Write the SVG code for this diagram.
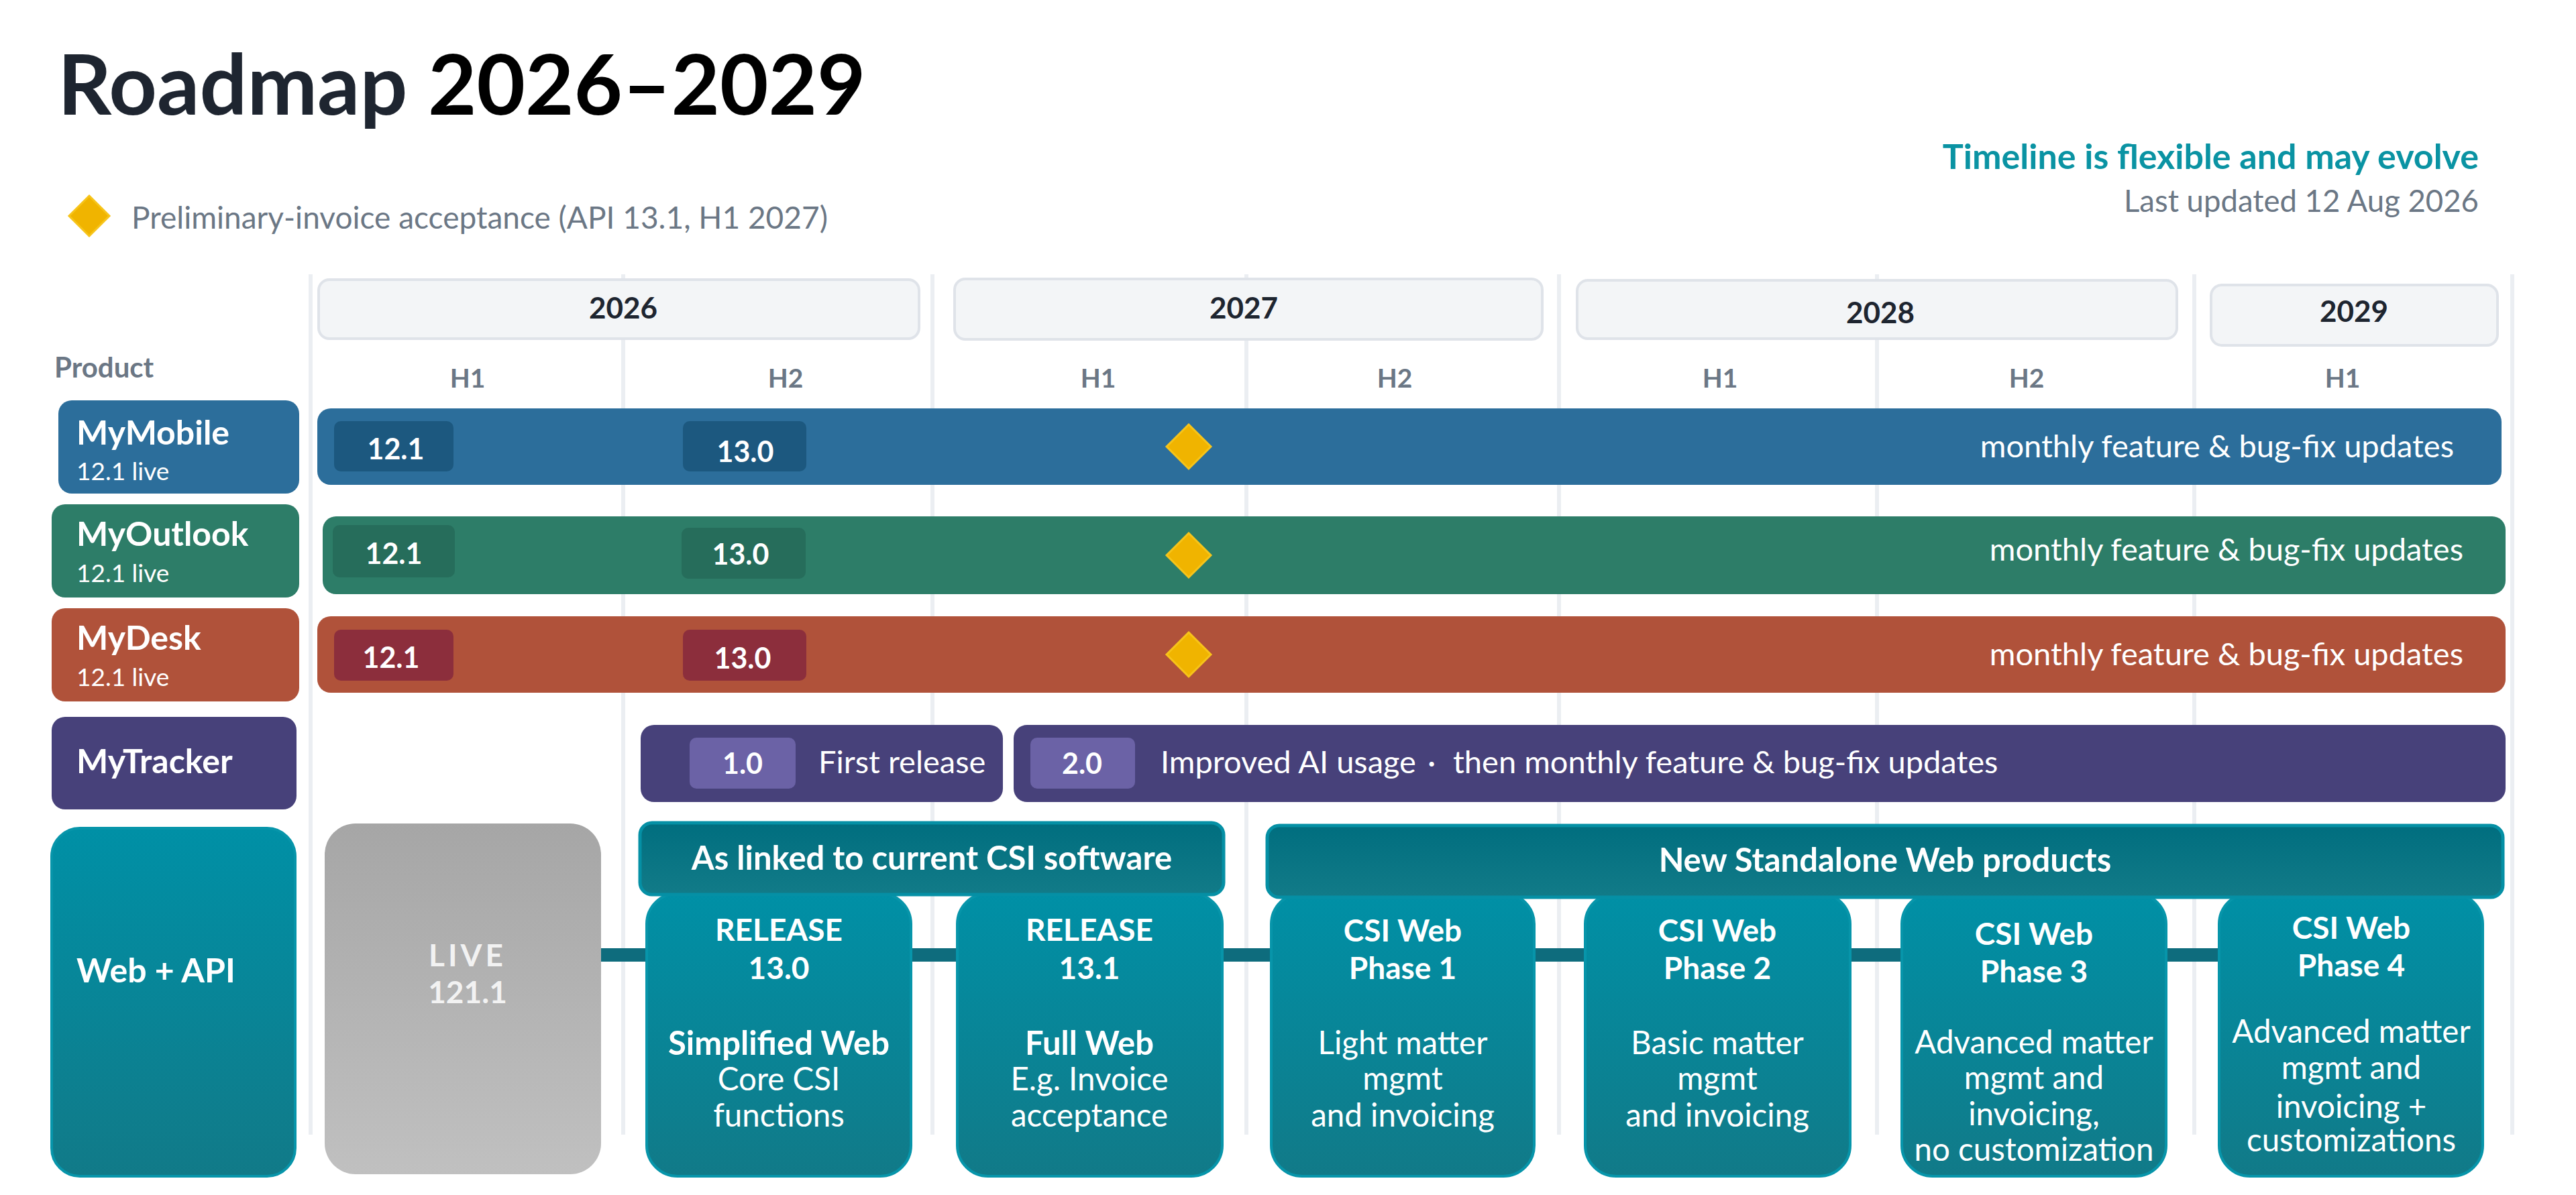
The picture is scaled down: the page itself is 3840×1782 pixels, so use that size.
<svg xmlns="http://www.w3.org/2000/svg" width="3840" height="1782" viewBox="0 0 3840 1782">
<defs>
<style>
text{font-family:Lato,"Open Sans","Liberation Sans",sans-serif}
.b{font-weight:700}
.w{fill:#ffffff}
.g{fill:#6b7785}
.yr{fill:#f3f5f7;stroke:#dfe3e9;stroke-width:4}
.yt{font-size:44px;font-weight:700;fill:#1e2530;text-anchor:middle}
.ht{font-size:39px;font-weight:700;fill:#6b7785;text-anchor:middle}
.grid{stroke:#ebeef2;stroke-width:6}
.ln{font-size:50px;font-weight:700;fill:#fff}
.sub{font-size:37px;fill:#fff}
.chip{font-size:43px;font-weight:700;fill:#fff;text-anchor:middle}
.mo{font-size:47px;fill:#fff;text-anchor:end}
.tr{font-size:47px;fill:#fff}
.dia{fill:#f0b400;stroke:#f7c41a;stroke-width:3}
.tb{fill:url(#teal);stroke:#0795aa;stroke-width:4}
.hd{fill:url(#hdr);stroke:#0590a5;stroke-width:5}
.ht2{font-size:49px;font-weight:700;fill:#fff;text-anchor:middle}
.bt{font-size:46px;font-weight:700;fill:#fff;text-anchor:middle}
.bs{font-size:49px;font-weight:700;fill:#fff;text-anchor:middle}
.bb{font-size:47.5px;fill:#fff;text-anchor:middle}
</style>
<linearGradient id="teal" x1="0" y1="0" x2="0" y2="1"><stop offset="0" stop-color="#0090a6"/><stop offset="1" stop-color="#117a88"/></linearGradient>
<linearGradient id="hdr" x1="0" y1="0" x2="0" y2="1"><stop offset="0" stop-color="#006e7f"/><stop offset="1" stop-color="#127b88"/></linearGradient>
<linearGradient id="gray" x1="0" y1="0" x2="0" y2="1"><stop offset="0" stop-color="#a6a6a6"/><stop offset="1" stop-color="#c0c0c0"/></linearGradient>
</defs>
<rect width="3840" height="1782" fill="#ffffff"/>

<g id="title">
<text x="86" y="171" font-size="125" class="b"><tspan fill="#1e2530">Roadmap </tspan><tspan fill="#000000">2026–2029</tspan></text>
</g>
<g id="legend">
<polygon class="dia" points="133,292 163,322 133,352 103,322"/>
<text x="196" y="341" font-size="46" class="g">Preliminary-invoice acceptance (API 13.1, H1 2027)</text>
</g>
<g id="note">
<text x="3695" y="252" font-size="52" class="b" fill="#0a93a3" text-anchor="end">Timeline is flexible and may evolve</text>
<text x="3695" y="316" font-size="45.5" class="g" text-anchor="end">Last updated 12 Aug 2026</text>
</g>

<g id="grid">
<line class="grid" x1="463" y1="409" x2="463" y2="1692"/>
<line class="grid" x1="929" y1="409" x2="929" y2="1692"/>
<line class="grid" x1="1390" y1="409" x2="1390" y2="1692"/>
<line class="grid" x1="1858" y1="409" x2="1858" y2="1692"/>
<line class="grid" x1="2324" y1="409" x2="2324" y2="1692"/>
<line class="grid" x1="2798" y1="409" x2="2798" y2="1692"/>
<line class="grid" x1="3271" y1="409" x2="3271" y2="1692"/>
<line class="grid" x1="3745" y1="409" x2="3745" y2="1692"/>
</g>

<g id="years">
<rect class="yr" x="475" y="417" width="895" height="88" rx="16"/>
<text class="yt" x="929" y="475">2026</text>
<rect class="yr" x="1423" y="416" width="876" height="90" rx="16"/>
<text class="yt" x="1854" y="475">2027</text>
<rect class="yr" x="2351" y="418" width="894" height="87" rx="16"/>
<text class="yt" x="2803" y="482">2028</text>
<rect class="yr" x="3296" y="425" width="427" height="90" rx="16"/>
<text class="yt" x="3509" y="480">2029</text>
</g>
<g id="halves">
<text class="ht" x="697" y="578">H1</text>
<text class="ht" x="1171" y="578">H2</text>
<text class="ht" x="1637" y="578">H1</text>
<text class="ht" x="2079" y="578">H2</text>
<text class="ht" x="2564" y="578">H1</text>
<text class="ht" x="3021" y="578">H2</text>
<text class="ht" x="3492" y="578">H1</text>
</g>
<text x="81" y="563" font-size="42" class="b g">Product</text>

<g id="mymobile">
<rect x="87" y="597" width="359" height="139" rx="20" fill="#2c6e9b"/>
<text class="ln" x="114" y="663">MyMobile</text>
<text class="sub" x="114" y="716">12.1 live</text>
<rect x="473" y="609" width="3256" height="114" rx="20" fill="#2c6e9b"/>
<rect x="498" y="628" width="178" height="75" rx="10" fill="#1c587f"/>
<text class="chip" x="590" y="685">12.1</text>
<rect x="1018" y="628" width="184" height="75" rx="10" fill="#1c587f"/>
<text class="chip" x="1111" y="689">13.0</text>
<polygon class="dia" points="1772,633 1805,666 1772,699 1739,666"/>
<text class="mo" x="3658" y="682">monthly feature &amp; bug-fix updates</text>
</g>

<g id="myoutlook">
<rect x="77" y="752" width="369" height="139" rx="20" fill="#2d7d68"/>
<text class="ln" x="114" y="814">MyOutlook</text>
<text class="sub" x="114" y="868">12.1 live</text>
<rect x="481" y="770" width="3254" height="116" rx="20" fill="#2d7d68"/>
<rect x="496" y="783" width="182" height="78" rx="10" fill="#266d5b"/>
<text class="chip" x="587" y="841">12.1</text>
<rect x="1016" y="787" width="185" height="76" rx="10" fill="#266d5b"/>
<text class="chip" x="1104" y="842">13.0</text>
<polygon class="dia" points="1772,795 1805,828 1772,861 1739,828"/>
<text class="mo" x="3672" y="836">monthly feature &amp; bug-fix updates</text>
</g>

<g id="mydesk">
<rect x="77" y="907" width="369" height="139" rx="20" fill="#b0523a"/>
<text class="ln" x="114" y="969">MyDesk</text>
<text class="sub" x="114" y="1023">12.1 live</text>
<rect x="473" y="919" width="3262" height="114" rx="20" fill="#b0523a"/>
<rect x="498" y="939" width="178" height="76" rx="10" fill="#8c2e3c"/>
<text class="chip" x="583" y="996">12.1</text>
<rect x="1018" y="939" width="184" height="76" rx="10" fill="#8c2e3c"/>
<text class="chip" x="1107" y="997">13.0</text>
<polygon class="dia" points="1772,943 1805,976 1772,1009 1739,976"/>
<text class="mo" x="3672" y="992">monthly feature &amp; bug-fix updates</text>
</g>

<g id="mytracker">
<rect x="77" y="1069" width="365" height="138" rx="20" fill="#47417a"/>
<text class="ln" x="114" y="1153">MyTracker</text>
<rect x="955" y="1081" width="540" height="115" rx="20" fill="#47417a"/>
<rect x="1028" y="1100" width="158" height="76" rx="10" fill="#6b62a6"/>
<text class="chip" x="1107" y="1154">1.0</text>
<text class="tr" x="1220" y="1153">First release</text>
<rect x="1511" y="1081" width="2224" height="115" rx="20" fill="#47417a"/>
<rect x="1536" y="1100" width="156" height="76" rx="10" fill="#6b62a6"/>
<text class="chip" x="1613" y="1154">2.0</text>
<text class="tr" x="1730" y="1153">Improved AI usage<tspan x="2128">·</tspan><tspan x="2166">then monthly feature &amp; bug-fix updates</tspan></text>
</g>

<g id="connectors">
<line x1="890" y1="1424" x2="3310" y2="1424" stroke="#0e6c7d" stroke-width="20"/>
</g>

<g id="webapi">
<rect class="tb" x="77" y="1235" width="363" height="519" rx="42"/>
<text class="ln" x="114" y="1465" font-size="46">Web + API</text>
</g>
<g id="live">
<rect x="484" y="1228" width="412" height="523" rx="46" fill="url(#gray)"/>
<text x="697" y="1441" font-size="46" class="b" fill="#f2f2f2" text-anchor="middle" letter-spacing="5">LIVE</text>
<text x="697" y="1496" font-size="46" class="b" fill="#f2f2f2" text-anchor="middle">121.1</text>
</g>

<g id="rel130">
<rect class="tb" x="964" y="1332" width="394" height="422" rx="46"/>
<text class="bt" x="1161" y="1403">RELEASE</text>
<text class="bt" x="1161" y="1460">13.0</text>
<text class="bs" x="1161" y="1573">Simplified Web</text>
<text class="bb" x="1161" y="1626">Core CSI</text>
<text class="bb" x="1161" y="1680">functions</text>
</g>
<g id="rel131">
<rect class="tb" x="1427" y="1332" width="395" height="422" rx="46"/>
<text class="bt" x="1624" y="1403">RELEASE</text>
<text class="bt" x="1624" y="1460">13.1</text>
<text class="bs" x="1624" y="1573">Full Web</text>
<text class="bb" x="1624" y="1626">E.g. Invoice</text>
<text class="bb" x="1624" y="1680">acceptance</text>
</g>
<g id="phase1">
<rect class="tb" x="1895" y="1332" width="392" height="422" rx="46"/>
<text class="bt" x="2091" y="1404">CSI Web</text>
<text class="bt" x="2091" y="1460">Phase 1</text>
<text class="bb" x="2091" y="1572">Light matter</text>
<text class="bb" x="2091" y="1625">mgmt</text>
<text class="bb" x="2091" y="1680">and invoicing</text>
</g>
<g id="phase2">
<rect class="tb" x="2363" y="1332" width="395" height="422" rx="46"/>
<text class="bt" x="2560" y="1404">CSI Web</text>
<text class="bt" x="2560" y="1460">Phase 2</text>
<text class="bb" x="2560" y="1572">Basic matter</text>
<text class="bb" x="2560" y="1625">mgmt</text>
<text class="bb" x="2560" y="1680">and invoicing</text>
</g>
<g id="phase3">
<rect class="tb" x="2835" y="1332" width="394" height="422" rx="46"/>
<text class="bt" x="3032" y="1409">CSI Web</text>
<text class="bt" x="3032" y="1465">Phase 3</text>
<text class="bb" x="3032" y="1571">Advanced matter</text>
<text class="bb" x="3032" y="1624">mgmt and</text>
<text class="bb" x="3032" y="1678">invoicing,</text>
<text class="bb" x="3032" y="1731">no customization</text>
</g>
<g id="phase4">
<rect class="tb" x="3308" y="1332" width="393" height="422" rx="46"/>
<text class="bt" x="3505" y="1400">CSI Web</text>
<text class="bt" x="3505" y="1456">Phase 4</text>
<text class="bb" x="3505" y="1555">Advanced matter</text>
<text class="bb" x="3505" y="1609">mgmt and</text>
<text class="bb" x="3505" y="1667">invoicing +</text>
<text class="bb" x="3505" y="1717">customizations</text>
</g>

<g id="hdr-linked">
<rect class="hd" x="954" y="1227" width="870" height="107" rx="18"/>
<text class="ht2" x="1389" y="1297">As linked to current CSI software</text>
</g>
<g id="hdr-new">
<rect class="hd" x="1889" y="1231" width="1842" height="107" rx="18"/>
<text class="ht2" x="2810" y="1300">New Standalone Web products</text>
</g>
</svg>
